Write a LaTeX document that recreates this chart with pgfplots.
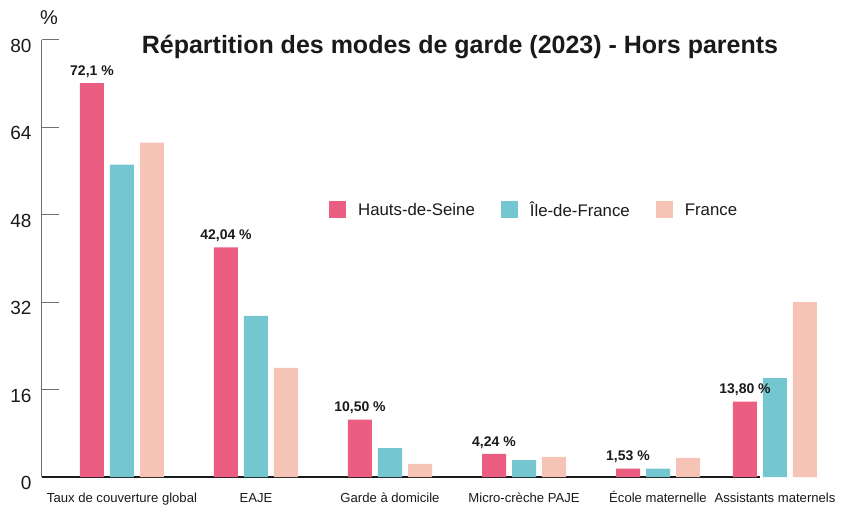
\documentclass[border=0pt]{standalone}
\usepackage{pgfplots}
\pgfplotsset{compat=1.18}
\usepackage{fontspec}
\setmainfont{Liberation Sans}
\definecolor{hds}{HTML}{EB5E82}
\definecolor{idf}{HTML}{74C7D1}
\definecolor{fra}{HTML}{F6C3B7}
\definecolor{axgray}{HTML}{707070}
\definecolor{txt}{HTML}{1A1A1A}
\begin{document}
\begin{tikzpicture}[x=1pt,y=1pt]
\path[use as bounding box] (0,0) rectangle (852,504);
\begin{axis}[
  at={(42pt,27pt)}, anchor=south west,
  scale only axis, width=743.3pt, height=437pt,
  xmin=-0.597, xmax=4.95, ymin=0, ymax=80,
  ytick={0,16,32,48,64,80},
  xtick={0,1,2,3,4,4.873},
  xticklabels={Taux de couverture global,EAJE,Garde à domicile,Micro-crèche PAJE,École maternelle,Assistants maternels},
  axis x line*=bottom, axis y line*=left,
  x axis line style={txt, line width=1.3pt, shorten >=25.3pt},
  y axis line style={axgray, line width=1pt},
  xtick style={draw=none},
  ytick style={axgray, line width=1pt},
  tick align=inside, major tick length=17pt,
  /pgf/number format/assume math mode=true,
  yticklabel style={font=\fontsize{19}{19}\selectfont, text=txt, yshift=-6pt, xshift=-7pt},
  xticklabel style={font=\fontsize{13.1}{13.1}\selectfont, text=txt, text height=10pt, text depth=3pt, anchor=north, yshift=5pt},
  ybar=6pt, bar width=24pt,
  clip=false,
  legend columns=3,
  legend style={at={(0.3861,0.611)}, anchor=west, draw=none, fill=none, inner sep=0pt,
    font=\fontsize{16.8}{16.8}\selectfont, text=txt,
    /tikz/every odd column/.append style={column sep=10pt},
    /tikz/every even column/.append style={column sep=24pt}},
  legend image code/.code={\fill[#1] (0pt,-8.5pt) rectangle (17pt,8.5pt);},
]
\addplot[fill=hds, draw=none] coordinates {(0,72.1) (1,42.04) (2,10.50) (3,4.24) (4,1.53) (4.873,13.80)};
\addlegendentry{Hauts-de-Seine}
\addplot[fill=idf, draw=none] coordinates {(0,57.2) (1,29.5) (2,5.3) (3,3.1) (4,1.55) (4.873,18.1)};
\addlegendentry{Île-de-France}
\addplot[fill=fra, draw=none] coordinates {(0,61.2) (1,20.0) (2,2.4) (3,3.7) (4,3.5) (4.873,32.0)};
\addlegendentry{France}
\addplot[draw=none, fill=none, forget plot, bar shift=-30pt,
  nodes near coords, point meta=explicit symbolic,
  every node near coord/.append style={font=\bfseries\fontsize{14}{14}\selectfont, text=txt, anchor=south, yshift=2pt}]
  coordinates {(0,72.1) [72,1 \%] (1,42.04) [42,04 \%] (2,10.50) [10,50 \%] (3,4.24) [4,24 \%] (4,1.53) [1,53 \%] (4.873,13.80) [13,80 \%]};
\end{axis}
\node[font=\fontsize{20}{20}\selectfont, text=txt] at (49,486) {\%};
\node[font=\bfseries\fontsize{25}{25}\selectfont, text=txt] at (460,457) {Répartition des modes de garde (2023) - Hors parents};
\end{tikzpicture}
\end{document}
